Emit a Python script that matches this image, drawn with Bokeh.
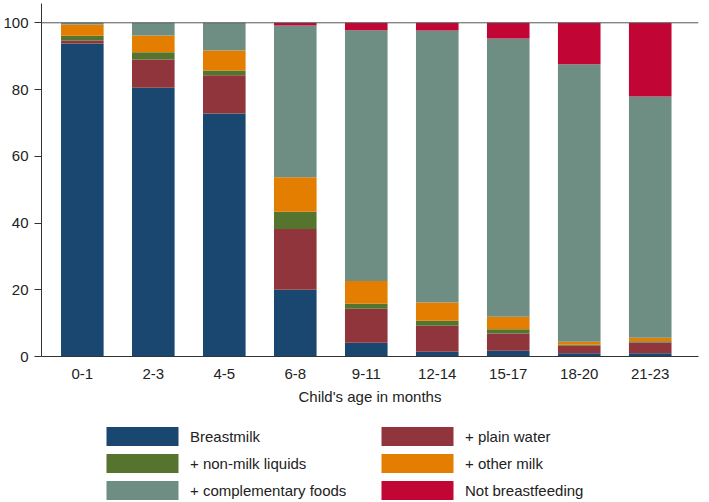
from bokeh.plotting import figure
from bokeh.layouts import column
from bokeh.models import ColumnDataSource, FixedTicker, Legend, LegendItem, Span, Range1d
from bokeh.embed import file_html
from bokeh.resources import INLINE

categories = ["0-1", "2-3", "4-5", "6-8", "9-11", "12-14", "15-17", "18-20", "21-23"]
series_names = ["Breastmilk", "+ plain water", "+ non-milk liquids", "+ other milk",
                "+ complementary foods", "Not breastfeeding"]
breastmilk = [93.8, 80.5, 72.8, 20.0, 4.1, 1.4, 1.7, 1.0, 1.0]
plain_water = [0.9, 8.5, 11.5, 18.2, 10.2, 7.8, 5.2, 2.2, 3.2]
non_milk = [1.4, 2.2, 1.4, 5.2, 1.5, 1.5, 1.3, 0.3, 0.4]
other_milk = [3.4, 5.0, 6.0, 10.3, 6.8, 5.5, 3.7, 0.9, 1.0]
complementary = [0.5, 3.8, 8.3, 45.5, 75.2, 81.5, 83.4, 83.2, 72.3]
not_bf = [0.0, 0.0, 0.0, 0.8, 2.2, 2.3, 4.7, 12.4, 22.1]
y_ticks = [0, 20, 40, 60, 80, 100]
colors = ["#1a476f", "#90353b", "#55752f", "#e37e00", "#6e8e84", "#c10534"]

FONT = "Liberation Sans"
TXT = "#222222"

xpos = list(range(1, len(categories) + 1))
keys = ["breastmilk", "plain_water", "non_milk", "other_milk", "complementary", "not_bf"]
source = ColumnDataSource(dict(x=xpos, breastmilk=breastmilk, plain_water=plain_water,
                               non_milk=non_milk, other_milk=other_milk,
                               complementary=complementary, not_bf=not_bf))

p = figure(width=701, height=410, output_backend="svg", toolbar_location=None,
           x_range=Range1d(0.425, 9.68), y_range=Range1d(0, 105.78),
           min_border_left=38, min_border_right=3, min_border_top=3, min_border_bottom=54)

renderers = p.vbar_stack(keys, x="x", width=0.6, color=colors, line_color=None, source=source)

p.add_layout(Span(location=100, dimension="width", line_color="#555555", line_width=1))

p.xgrid.visible = False
p.ygrid.visible = False
p.outline_line_color = None

p.xaxis.ticker = FixedTicker(ticks=xpos)
p.xaxis.major_label_overrides = {x: c for x, c in zip(xpos, categories)}
p.xaxis.major_tick_out = 0
p.xaxis.major_tick_in = 0
p.xaxis.minor_tick_out = 0
p.xaxis.minor_tick_in = 0
p.xaxis.major_label_standoff = 12
p.xaxis.axis_label = "Child's age in months"
p.xaxis.axis_label_standoff = 6
p.xaxis.axis_label_text_font_style = "normal"
p.xaxis.axis_label_text_font_size = "15px"
p.xaxis.axis_label_text_font = FONT
p.xaxis.axis_label_text_color = TXT

p.yaxis.ticker = FixedTicker(ticks=y_ticks)
p.yaxis.major_tick_out = 7
p.yaxis.major_tick_in = 0
p.yaxis.minor_tick_out = 0
p.yaxis.minor_tick_in = 0
p.yaxis.major_label_standoff = 6
p.yaxis.major_label_orientation = "horizontal"

for ax in (p.xaxis, p.yaxis):
    ax.axis_line_color = "#333333"
    ax.major_tick_line_color = "#333333"
    ax.major_label_text_font = FONT
    ax.major_label_text_font_size = "15px"
    ax.major_label_text_color = TXT

# legend lives in its own strip below the chart
p2 = figure(width=701, height=92, output_backend="svg", toolbar_location=None,
            x_axis_type=None, y_axis_type=None,
            x_range=Range1d(0, 1), y_range=Range1d(0, 1),
            min_border_left=0, min_border_right=0, min_border_top=0, min_border_bottom=0)
p2.outline_line_color = None
p2.xgrid.visible = False
p2.ygrid.visible = False
swatches = [p2.vbar(x=[-5], top=[-5], bottom=[-5], width=0.1, color=c, line_color=None)
            for c in colors]

items = [LegendItem(label=n, renderers=[r]) for n, r in zip(series_names, swatches)]
legend = Legend(items=items, location=(56, 0), orientation="horizontal", ncols=2,
                glyph_width=90, glyph_height=24, label_height=24, label_width=179,
                label_standoff=3, spacing=3, padding=0, margin=0,
                border_line_color=None, background_fill_alpha=0,
                label_text_font=FONT, label_text_font_size="15px", label_text_color=TXT)
p2.add_layout(legend)

layout = column(p, p2, spacing=0)
open("out.html", "w").write(file_html(layout, INLINE))
